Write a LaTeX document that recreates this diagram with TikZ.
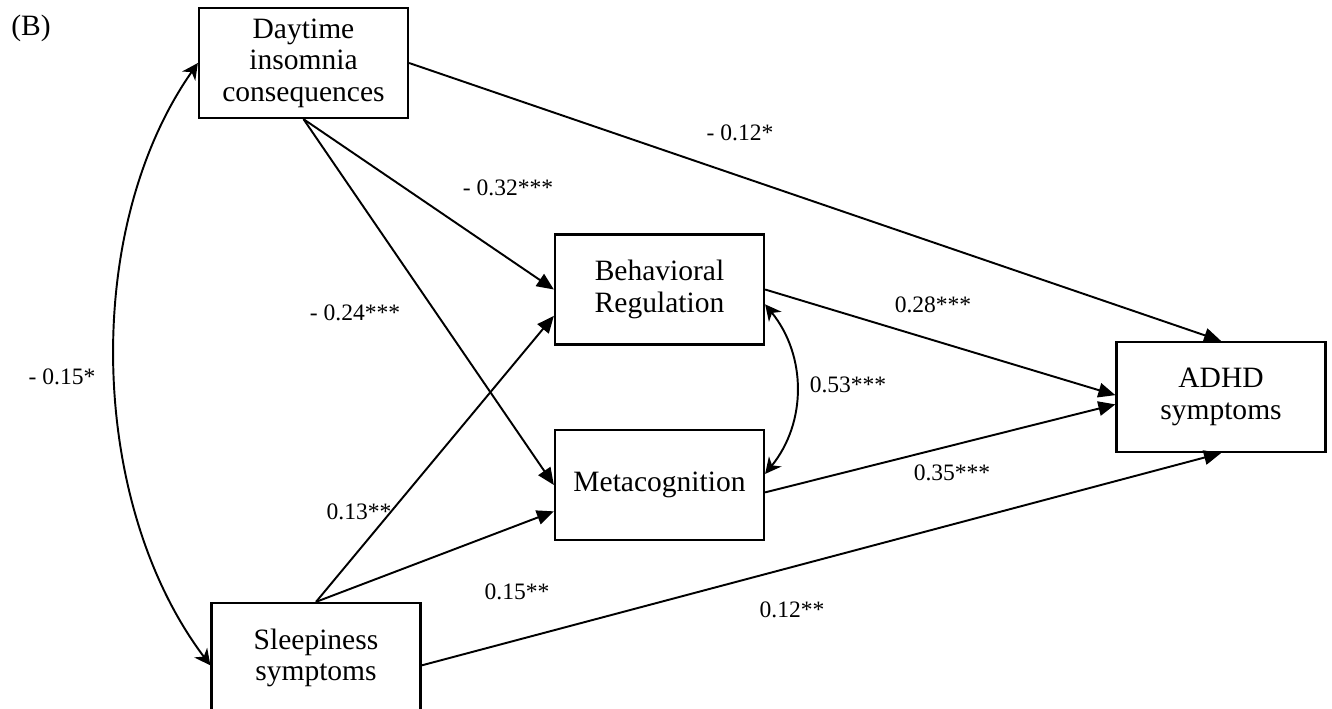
\documentclass[tikz,border=0pt]{standalone}
\usepackage{fontspec}
\setmainfont{Liberation Serif}
\usetikzlibrary{arrows.meta,positioning}

\tikzset{
  var/.style={draw,line width=1.3pt,minimum width=4.18cm,minimum height=2.2cm,
    align=center,inner sep=0pt,font=\fontsize{16.8}{18}\selectfont},
  coef/.style={inner sep=0pt,font=\fontsize{13.4}{15}\selectfont},
  effect/.style={line width=1.1pt,-{Triangle[length=0.34cm,width=0.29cm]}},
  cov/.style={line width=1.1pt,{Stealth[length=0.32cm,width=0.32cm,inset=0.1cm]}-{Stealth[length=0.32cm,width=0.32cm,inset=0.1cm]}}
}

\begin{document}
\begin{tikzpicture}[x=0.02cm,y=-0.02cm]
    \useasboundingbox (0,0) rectangle (1332,708);
    \node[font=\fontsize{16.8}{18}\selectfont] (tag) at (31,28) {(B)};
    \node[var] (day) at (303.5,63) {Daytime\\insomnia\\consequences};
    \node[var] (beh) at (659.5,289.5) {Behavioral\\Regulation};
    \node[var] (meta) at (659.5,485) {Metacognition};
    \node[var] (adhd) at (1221,397) {ADHD\\symptoms};
    \node[var] (sleep) at (316,658) {Sleepiness\\symptoms};
    \foreach \a/\b in {day.east/adhd.north,day.south/beh.west,day.south/meta.west,
        sleep.north/beh.194,sleep.north/meta.194,sleep.-4/adhd.south,
        beh.east/adhd.179,meta.-4/adhd.184}
    {
    \draw[effect] (\a) -- (\b);
    }
    \draw[cov] (beh.-8) to[bend left=39] (meta.6);
    \draw[cov] (day.west) to[out=235,in=127,looseness=0.86] (sleep.184);
    \foreach \pos/\txt [count=\i] in {{740,133}/{- 0.12*},{508,188}/{- 0.32***},
        {355,313}/{- 0.24***},{359,512}/{0.13**},{517,592}/{0.15**},
        {792,610}/{0.12**},{933,305}/{0.28***},{952,473}/{0.35***},
        {848,385}/{0.53***},{62,377}/{- 0.15*}}
    {
    \node[coef] (c\i) at (\pos) {\txt};
    }
\end{tikzpicture}
\end{document}
